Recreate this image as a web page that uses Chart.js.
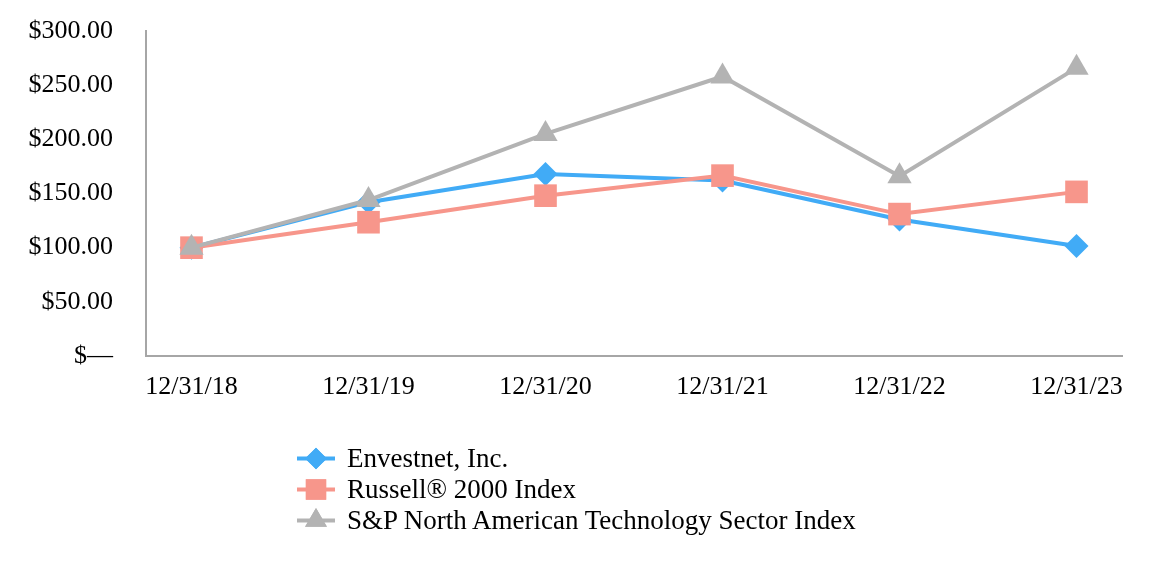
<!DOCTYPE html>
<html>
<head>
<meta charset="utf-8">
<script src="https://cdn.jsdelivr.net/npm/chart.js@4.4.1/dist/chart.umd.min.js"></script>
<style>
  body { margin: 0; background: #fff; }
  #wrap { position: relative; width: 1152px; height: 576px; }
  #legend { position: absolute; left: 297px; top: 443px; font-family: 'Liberation Serif', serif; font-size: 27px; color: #000; }
  #legend div { height: 31px; display: flex; align-items: center; }
  #legend canvas { margin-right: 10px; }
</style>
</head>
<body>
<div id="wrap">
  <canvas id="chart" width="1152" height="576"></canvas>
  <div id="legend"></div>
</div>
<script>
// values
const dates = ['12/31/18', '12/31/19', '12/31/20', '12/31/21', '12/31/22', '12/31/23'];
const envestnet = [100, 142, 168, 162, 126, 101.5];
const russell = [100, 123.5, 148, 166.5, 131, 151.5];
const snpTech = [100, 144, 205, 258, 166, 266];
const yTicks = [0, 50, 100, 150, 200, 250, 300];

const font = { family: 'Liberation Serif', size: 26 };

const series = [
  { label: 'Envestnet, Inc.', data: envestnet, color: '#41abf6', style: 'rectRot', radius: 12, order: 3 },
  { label: 'Russell® 2000 Index', data: russell, color: '#f7968b', style: 'rect', radius: 16, order: 2 },
  { label: 'S&P North American Technology Sector Index', data: snpTech, color: '#b3b3b3', style: 'triangle', radius: 14, order: 1 }
];

const datasets = series.map(s => ({
  label: s.label,
  data: s.data.map((v, i) => ({ x: i, y: v })),
  borderColor: s.color,
  backgroundColor: s.color,
  borderWidth: 4,
  pointStyle: s.style,
  pointRadius: s.radius,
  pointHoverRadius: s.radius,
  pointBorderWidth: 0,
  order: s.order,
  tension: 0
}));

// invisible tick marks give the gap between labels and axis
const hiddenGrid = { display: true, drawOnChartArea: false, drawTicks: true, color: 'rgba(0,0,0,0)' };

new Chart(document.getElementById('chart'), {
  type: 'line',
  data: { datasets },
  options: {
    responsive: false,
    animation: false,
    layout: { padding: { top: 31, right: 30, left: 0, bottom: 0 } },
    plugins: { legend: { display: false }, tooltip: { enabled: false } },
    scales: {
      x: {
        type: 'linear',
        min: -0.257,
        max: 5.257,
        afterBuildTicks: scale => { scale.ticks = dates.map((d, i) => ({ value: i })); },
        afterFit: scale => { scale.height = 220; },
        ticks: {
          callback: v => dates[v],
          color: '#000',
          font,
          padding: 4,
          maxRotation: 0,
          autoSkip: false
        },
        grid: { ...hiddenGrid, tickLength: 12 },
        border: { display: true, color: '#a6a6a6', width: 2 }
      },
      y: {
        min: 0,
        max: 300,
        afterBuildTicks: scale => { scale.ticks = yTicks.map(v => ({ value: v })); },
        afterFit: scale => { scale.width = 146; },
        ticks: {
          callback: v => v === 0 ? '$\u2014' : '$' + v.toFixed(2),
          color: '#000',
          font,
          padding: 3
        },
        grid: { ...hiddenGrid, tickLength: 30 },
        border: { display: true, color: '#a6a6a6', width: 2 }
      }
    }
  }
});

// legend: line with marker, then label
const legend = document.getElementById('legend');
series.forEach(s => {
  const row = document.createElement('div');
  const c = document.createElement('canvas');
  c.width = 40; c.height = 31;
  const ctx = c.getContext('2d');
  ctx.strokeStyle = s.color;
  ctx.lineWidth = 4;
  ctx.beginPath(); ctx.moveTo(0, 15.5); ctx.lineTo(38, 15.5); ctx.stroke();
  ctx.fillStyle = s.color;
  Chart.helpers.drawPoint(ctx, { pointStyle: s.style, radius: s.radius * 0.9, borderWidth: 0 }, 19, 15.5);
  ctx.fill();
  row.appendChild(c);
  const span = document.createElement('span');
  span.textContent = s.label;
  row.appendChild(span);
  legend.appendChild(row);
});
</script>
</body>
</html>
